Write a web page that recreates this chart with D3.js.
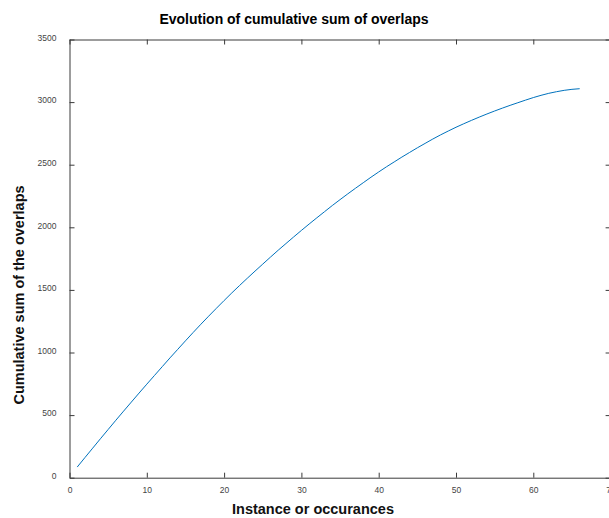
<!DOCTYPE html>
<html>
<head>
<meta charset="utf-8">
<script src="https://cdn.jsdelivr.net/npm/d3@7"></script>
<style>
  body { margin: 0; background: #fff; }
  svg { display: block; font-family: 'Liberation Sans', Arial, sans-serif; }
  .tick text { fill: #444; font-size: 8.5px; }
  .titulo { font-weight: bold; font-size: 14px; fill: #000; }
  .etiqueta { font-weight: bold; font-size: 14.5px; fill: #111; }
</style>
</head>
<body>
<div id="graf"></div>
<script>
const anchoTotal = 609
const altoTotal = 518

// instance number (x) and cumulative sum (y)
const instancias = d3.range(1, 67)
const acumulado = [
  85, 161, 236, 311, 385, 459, 532, 604, 676, 747,
  817, 887, 957, 1025, 1093, 1160, 1226, 1290, 1353, 1415,
  1476, 1535, 1593, 1650, 1706, 1762, 1817, 1870, 1923, 1975,
  2026, 2076, 2125, 2174, 2221, 2267, 2312, 2356, 2400, 2442,
  2483, 2522, 2561, 2598, 2635, 2670, 2705, 2738, 2769, 2799,
  2827, 2854, 2880, 2905, 2929, 2952, 2974, 2995, 3016, 3036,
  3054, 3070, 3083, 3094, 3102, 3107
]
const ticksX = [0, 10, 20, 30, 40, 50, 60, 70]
const ticksY = [0, 500, 1000, 1500, 2000, 2500, 3000, 3500]

const margin = { top: 39.5, bottom: 40.3, left: 69.5, right: -1.6 }
const ancho = anchoTotal - margin.left - margin.right
const alto = altoTotal - margin.top - margin.bottom

const svg = d3.select('#graf')
  .append('svg')
  .attr('width', anchoTotal)
  .attr('height', altoTotal)

const g = svg.append('g')
  .attr('transform', `translate(${margin.left}, ${margin.top})`)

const x = d3.scaleLinear().domain([0, 70]).range([0, ancho])
const y = d3.scaleLinear().domain([0, 3500]).range([alto, 0])

const tk = 5
const axisColor = '#3a3a3a'
const fmt = d3.format('d')

// bottom & left with labels, top & right only mirrored ticks
const xAxis = g.append('g').attr('transform', `translate(0, ${alto})`)
  .call(d3.axisBottom(x).tickValues(ticksX).tickSizeInner(-tk).tickSizeOuter(0).tickPadding(10).tickFormat(fmt))
g.append('g')
  .call(d3.axisTop(x).tickValues(ticksX).tickSizeInner(-tk).tickSizeOuter(0).tickFormat(''))
const yAxis = g.append('g')
  .call(d3.axisLeft(y).tickValues(ticksY).tickSizeInner(-tk).tickSizeOuter(0).tickPadding(13).tickFormat(fmt))
g.append('g').attr('transform', `translate(${ancho}, 0)`)
  .call(d3.axisRight(y).tickValues(ticksY).tickSizeInner(-tk).tickSizeOuter(0).tickFormat(''))

g.selectAll('.domain, .tick line').attr('stroke', axisColor).attr('stroke-width', 1)
yAxis.selectAll('.tick text').attr('dy', '0.1em')
xAxis.selectAll('.tick text').attr('dy', '0.6em')

const linea = d3.line()
  .x((d, i) => x(instancias[i]))
  .y(d => y(d))

g.append('path')
  .datum(acumulado)
  .attr('d', linea)
  .attr('fill', 'none')
  .attr('stroke', '#0072BD')
  .attr('stroke-width', 1)

svg.append('text')
  .attr('class', 'titulo')
  .attr('text-anchor', 'middle')
  .attr('x', 294)
  .attr('y', 24)
  .text('Evolution of cumulative sum of overlaps')

svg.append('text')
  .attr('class', 'etiqueta')
  .attr('text-anchor', 'middle')
  .attr('x', 313)
  .attr('y', 514)
  .text('Instance or occurances')

svg.append('text')
  .attr('class', 'etiqueta')
  .attr('text-anchor', 'middle')
  .attr('transform', 'translate(24, 295) rotate(-90)')
  .text('Cumulative sum of the overlaps')
</script>
</body>
</html>
